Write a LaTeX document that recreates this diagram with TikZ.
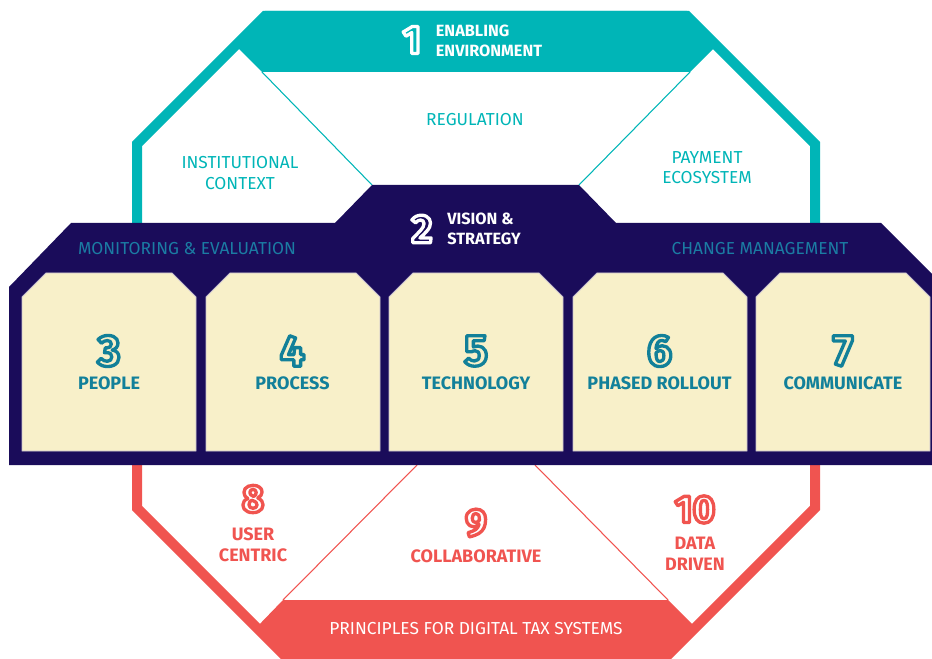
\documentclass[tikz,border=0pt]{standalone}
\usepackage{fontspec}
\setmainfont{Fira Sans}
\definecolor{teal1}{HTML}{00B5B7}
\definecolor{navy1}{HTML}{1A0C5A}
\definecolor{cream1}{HTML}{F8F0C9}
\definecolor{coral1}{HTML}{F05450}
\definecolor{boxtxt}{HTML}{12809A}
\definecolor{bandtxt}{HTML}{1B7CA3}
\definecolor{boxedge}{HTML}{C9C2CF}
\tikzset{
  % outlined digits: #1 fill colour, #2 stroke rgb (0..1)
  outl/.style 2 args={inner sep=0pt,
    execute at begin node={\color{#1}\special{pdf:literal direct 1 j 1 J #2 RG 2.5 w 2 Tr}},
    execute at end node={\special{pdf:literal direct 0 Tr}}},
  lbl/.style={font=\fontsize{13}{15.5}\selectfont, inner sep=0pt, align=center},
  blbl/.style={font=\bfseries\fontsize{13.5}{15.5}\selectfont, inner sep=0pt, align=center},
  hdr/.style={font=\bfseries\fontsize{12.2}{15.5}\selectfont, inner sep=0pt, align=left, text=white},
  bignum/.style={font=\bfseries\fontsize{33}{33}\selectfont},
  midnum/.style={font=\bfseries\fontsize{29}{29}\selectfont},
  topnum/.style={font=\bfseries\fontsize{30}{30}\selectfont},
  boxshape/.style={fill=cream1, draw=boxedge, line width=0.6pt},
  thickborder/.style={line width=7.5pt, miter limit=10, line join=miter},
  thinline/.style={line width=0.8pt},
}
\begin{document}
\begin{tikzpicture}[x=0.75pt,y=-0.75pt]
\useasboundingbox (0,0) rectangle (932,659);
\begin{scope}
\clip (0,0) rectangle (932,659);
% ---------- top: enabling environment ----------
\fill[teal1] (262,72) -- (234,44) -- (265,11) -- (687,11) -- (718,44) -- (690,72) -- cycle;
\draw[teal1, thickborder] (137,226) -- (137,144) -- (265,16) -- (687,16) -- (815,144) -- (815,226);
\coordinate (tl1) at (262,72); \coordinate (tl2) at (372,185);
\coordinate (tr1) at (690,72); \coordinate (tr2) at (579,185);
\draw[teal1, thinline] (tl1) -- (tl2);
\draw[teal1, thinline] (tr1) -- (tr2);
% ---------- bottom: principles ----------
\fill[coral1] (283,600) -- (668,600) -- (697,629) -- (653,673) -- (299,673) -- (255,629) -- cycle;
\draw[coral1, thickborder] (137,462) -- (137,508) -- (299,670) -- (653,670) -- (815,508) -- (815,462);
\coordinate (bl1) at (417,465); \coordinate (bl2) at (283,600);
\coordinate (br1) at (535,465); \coordinate (br2) at (668,600);
\draw[coral1, thinline] (bl1) -- (bl2);
\draw[coral1, thinline] (br1) -- (br2);
% ---------- navy band ----------
\fill[navy1] (9,465) -- (9,287) -- (71,223) -- (335,223) -- (372,185) -- (579,185) -- (616,223) -- (881,223) -- (943,285) -- (943,465) -- cycle;
% ---------- cream boxes ----------
\foreach \L/\nm in {22/b3, 206/b4, 389/b5, 573/b6, 756/b7}{
  \draw[boxshape] (\L,451) -- (\L,297) -- ({\L+24},273) -- ({\L+150},273) -- ({\L+174},297) -- ({\L+174},451) -- cycle;
}
\end{scope}
% ---------- texts: top ----------
\node[topnum, outl={teal1}{1 1 1}] (n1) at (412,40) {1};
\node[hdr] (enab) at (489,41) {ENABLING\\ENVIRONMENT};
\node[lbl, text=teal1] (reg) at (475,120) {REGULATION};
\node[lbl, text=teal1] (inst) at (240,173) {INSTITUTIONAL\\CONTEXT};
\node[lbl, text=teal1] (pay) at (707,167.5) {PAYMENT\\ECOSYSTEM};
% ---------- texts: band ----------
\node[topnum, outl={navy1}{1 1 1}] (n2) at (422,229) {2};
\node[hdr] (vis) at (484,229) {VISION \&\\STRATEGY};
\node[lbl, text=bandtxt] (mon) at (187,249) {MONITORING \& EVALUATION};
\node[lbl, text=bandtxt] (chg) at (760,249) {CHANGE MANAGEMENT};
% ---------- texts: boxes ----------
\foreach \cx/\num/\txt/\nm in {109/3/PEOPLE/p, 292.5/4/PROCESS/q, 476/5/TECHNOLOGY/t, 659.5/6/PHASED ROLLOUT/r, 843/7/COMMUNICATE/c}{
  \node[bignum, outl={cream1}{0.07 0.5 0.6}] (num\nm) at (\cx,351) {\num};
  \node[blbl, text=boxtxt] (lab\nm) at (\cx,383) {\txt};
}
% ---------- texts: bottom ----------
\node[midnum, outl={white}{0.94 0.33 0.31}] (n8) at (253,499) {8};
\node[blbl, text=coral1] (user) at (253,544.5) {USER\\CENTRIC};
\node[midnum, outl={white}{0.94 0.33 0.31}] (n9) at (476,523) {9};
\node[blbl, text=coral1] (coll) at (476,556) {COLLABORATIVE};
\node[midnum, outl={white}{0.94 0.33 0.31}] (n10) at (695,509.5) {10};
\node[blbl, text=coral1] (data) at (695,553.5) {DATA\\DRIVEN};
\node[lbl, text=white] (prin) at (476,629) {PRINCIPLES FOR DIGITAL TAX SYSTEMS};
\end{tikzpicture}
\end{document}
